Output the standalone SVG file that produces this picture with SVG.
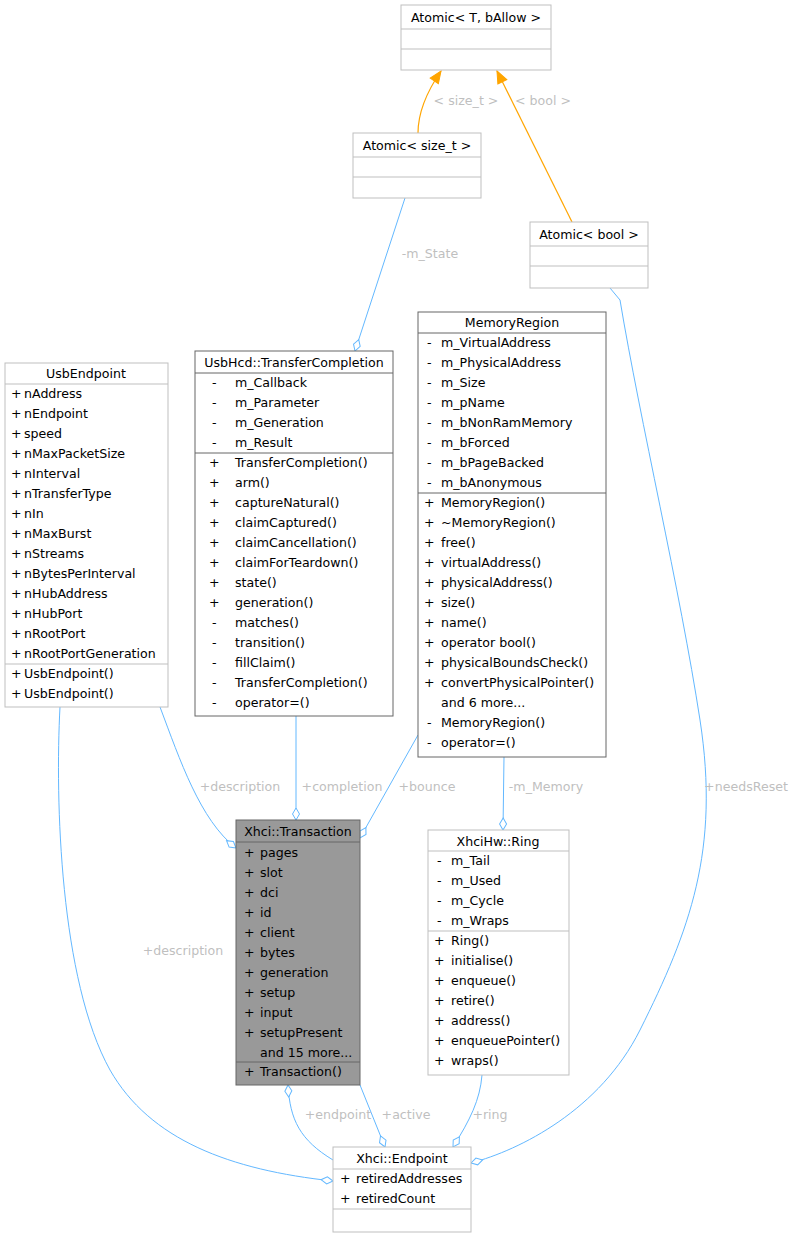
<svg xmlns="http://www.w3.org/2000/svg" width="796" height="1239" viewBox="0 0 796 1239">
<style>
text{font-family:"DejaVu Sans","Liberation Sans",sans-serif;font-size:12.6px;fill:#000}
.t{text-anchor:middle}
.b{fill:#fff;stroke:#bfbfbf;stroke-width:1}
.d{fill:#fff;stroke:#666;stroke-width:1}
.g{fill:#999;stroke:#666;stroke-width:1}
.ls{stroke:#bfbfbf}
.ld{stroke:#666}
.e{fill:none;stroke:#63b8ff;stroke-width:1}
.i{fill:none;stroke:#ffa500;stroke-width:1.2}
.lab{fill:#bfbfbf;text-anchor:middle}
</style>
<defs>
<marker id="dia" markerUnits="userSpaceOnUse" markerWidth="14" markerHeight="10" refX="0" refY="5" orient="auto" viewBox="0 0 14 10" overflow="visible">
<path d="M0,5 L6,1.5 L12,5 L6,8.5 Z" fill="#fff" stroke="#63b8ff"/>
</marker>
<marker id="tri" markerUnits="userSpaceOnUse" markerWidth="13" markerHeight="11" refX="12" refY="5.5" orient="auto" viewBox="0 0 13 11" overflow="visible">
<path d="M0,0.5 L12,5.5 L0,10.5 Z" fill="#ffa500" stroke="#ffa500"/>
</marker>
</defs>
<g id="edges">
<path class="i" d="M418,133 C418,110 428,90 441,71" marker-end="url(#tri)"/>
<path class="i" d="M572,222 L497,71" marker-end="url(#tri)"/>
<path class="e" d="M355,351 L405,198" marker-start="url(#dia)"/>
<path class="e" d="M236,848 C200,820 180,760 160,707" marker-start="url(#dia)"/>
<path class="e" d="M296,820 L296,716" marker-start="url(#dia)"/>
<path class="e" d="M360,838 L418,735" marker-start="url(#dia)"/>
<path class="e" d="M503,830 L504,757" marker-start="url(#dia)"/>
<path class="e" d="M333,1181 C230,1170 150,1140 110,1070 C60,980 55,800 60,707" marker-start="url(#dia)"/>
<path class="e" d="M288,1085 C290,1120 300,1140 333,1160" marker-start="url(#dia)"/>
<path class="e" d="M385,1147 L360,1085" marker-start="url(#dia)"/>
<path class="e" d="M453,1147 C470,1120 480,1100 482,1075" marker-start="url(#dia)"/>
<path class="e" d="M471,1163 C520,1150 600,1110 640,1030 C690,930 720,850 700,720 C680,590 640,420 620,300 L610,288" marker-start="url(#dia)"/>
<text class="lab" x="466" y="105">&lt; size_t &gt;</text>
<text class="lab" x="543" y="105">&lt; bool &gt;</text>
<text class="lab" x="430" y="258">-m_State</text>
<text class="lab" x="240" y="791">+description</text>
<text class="lab" x="342" y="791">+completion</text>
<text class="lab" x="427" y="791">+bounce</text>
<text class="lab" x="546" y="791">-m_Memory</text>
<text class="lab" x="746" y="791">+needsReset</text>
<text class="lab" x="183" y="955">+description</text>
<text class="lab" x="338" y="1119">+endpoint</text>
<text class="lab" x="406" y="1119">+active</text>
<text class="lab" x="490" y="1119">+ring</text>
</g>
<g id="AtomicT">
<rect class="b" x="401" y="5" width="150" height="65"/>
<line class="ls" x1="401" y1="29" x2="551" y2="29"/><line class="ls" x1="401" y1="49" x2="551" y2="49"/>
<text class="t" x="476" y="22">Atomic&lt; T, bAllow &gt;</text>
</g>
<g id="AtomicSize">
<rect class="b" x="353" y="133" width="128" height="65"/>
<line class="ls" x1="353" y1="157" x2="481" y2="157"/><line class="ls" x1="353" y1="177" x2="481" y2="177"/>
<text class="t" x="417" y="150">Atomic&lt; size_t &gt;</text>
</g>
<g id="AtomicBool">
<rect class="b" x="530" y="222" width="118" height="66"/>
<line class="ls" x1="530" y1="246" x2="648" y2="246"/><line class="ls" x1="530" y1="266" x2="648" y2="266"/>
<text class="t" x="589" y="239">Atomic&lt; bool &gt;</text>
</g>
<g id="UsbEndpoint">
<rect class="b" x="5" y="363" width="163" height="344"/>
<line class="ls" x1="5" y1="384" x2="168" y2="384"/><line class="ls" x1="5" y1="664" x2="168" y2="664"/>
<text class="t" x="86" y="378">UsbEndpoint</text>
<text x="11" y="398">+</text><text x="24" y="398">nAddress</text>
<text x="11" y="418">+</text><text x="24" y="418">nEndpoint</text>
<text x="11" y="438">+</text><text x="24" y="438">speed</text>
<text x="11" y="458">+</text><text x="24" y="458">nMaxPacketSize</text>
<text x="11" y="478">+</text><text x="24" y="478">nInterval</text>
<text x="11" y="498">+</text><text x="24" y="498">nTransferType</text>
<text x="11" y="518">+</text><text x="24" y="518">nIn</text>
<text x="11" y="538">+</text><text x="24" y="538">nMaxBurst</text>
<text x="11" y="558">+</text><text x="24" y="558">nStreams</text>
<text x="11" y="578">+</text><text x="24" y="578">nBytesPerInterval</text>
<text x="11" y="598">+</text><text x="24" y="598">nHubAddress</text>
<text x="11" y="618">+</text><text x="24" y="618">nHubPort</text>
<text x="11" y="638">+</text><text x="24" y="638">nRootPort</text>
<text x="11" y="658">+</text><text x="24" y="658">nRootPortGeneration</text>
<text x="11" y="678">+</text><text x="24" y="678">UsbEndpoint()</text>
<text x="11" y="698">+</text><text x="24" y="698">UsbEndpoint()</text>
</g>
<g id="TransferCompletion">
<rect class="d" x="195" y="351" width="198" height="365"/>
<line class="ld" x1="195" y1="373" x2="393" y2="373"/><line class="ld" x1="195" y1="453" x2="393" y2="453"/>
<text class="t" x="294" y="367">UsbHcd::TransferCompletion</text>
<text x="212" y="387">-</text><text x="235" y="387">m_Callback</text>
<text x="212" y="407">-</text><text x="235" y="407">m_Parameter</text>
<text x="212" y="427">-</text><text x="235" y="427">m_Generation</text>
<text x="212" y="447">-</text><text x="235" y="447">m_Result</text>
<text x="209" y="467">+</text><text x="235" y="467">TransferCompletion()</text>
<text x="209" y="487">+</text><text x="235" y="487">arm()</text>
<text x="209" y="507">+</text><text x="235" y="507">captureNatural()</text>
<text x="209" y="527">+</text><text x="235" y="527">claimCaptured()</text>
<text x="209" y="547">+</text><text x="235" y="547">claimCancellation()</text>
<text x="209" y="567">+</text><text x="235" y="567">claimForTeardown()</text>
<text x="209" y="587">+</text><text x="235" y="587">state()</text>
<text x="209" y="607">+</text><text x="235" y="607">generation()</text>
<text x="212" y="627">-</text><text x="235" y="627">matches()</text>
<text x="212" y="647">-</text><text x="235" y="647">transition()</text>
<text x="212" y="667">-</text><text x="235" y="667">fillClaim()</text>
<text x="212" y="687">-</text><text x="235" y="687">TransferCompletion()</text>
<text x="212" y="707">-</text><text x="235" y="707">operator=()</text>
</g>
<g id="MemoryRegion">
<rect class="d" x="418" y="312" width="188" height="445"/>
<line class="ld" x1="418" y1="333" x2="606" y2="333"/><line class="ld" x1="418" y1="493" x2="606" y2="493"/>
<text class="t" x="512" y="327">MemoryRegion</text>
<text x="427" y="347">-</text><text x="441" y="347">m_VirtualAddress</text>
<text x="427" y="367">-</text><text x="441" y="367">m_PhysicalAddress</text>
<text x="427" y="387">-</text><text x="441" y="387">m_Size</text>
<text x="427" y="407">-</text><text x="441" y="407">m_pName</text>
<text x="427" y="427">-</text><text x="441" y="427">m_bNonRamMemory</text>
<text x="427" y="447">-</text><text x="441" y="447">m_bForced</text>
<text x="427" y="467">-</text><text x="441" y="467">m_bPageBacked</text>
<text x="427" y="487">-</text><text x="441" y="487">m_bAnonymous</text>
<text x="424" y="507">+</text><text x="441" y="507">MemoryRegion()</text>
<text x="424" y="527">+</text><text x="441" y="527">~MemoryRegion()</text>
<text x="424" y="547">+</text><text x="441" y="547">free()</text>
<text x="424" y="567">+</text><text x="441" y="567">virtualAddress()</text>
<text x="424" y="587">+</text><text x="441" y="587">physicalAddress()</text>
<text x="424" y="607">+</text><text x="441" y="607">size()</text>
<text x="424" y="627">+</text><text x="441" y="627">name()</text>
<text x="424" y="647">+</text><text x="441" y="647">operator bool()</text>
<text x="424" y="667">+</text><text x="441" y="667">physicalBoundsCheck()</text>
<text x="424" y="687">+</text><text x="441" y="687">convertPhysicalPointer()</text>
<text x="441" y="707">and 6 more...</text>
<text x="427" y="727">-</text><text x="441" y="727">MemoryRegion()</text>
<text x="427" y="747">-</text><text x="441" y="747">operator=()</text>
</g>
<g id="Transaction">
<rect class="g" x="236" y="820" width="124" height="265"/>
<line class="ld" x1="236" y1="842" x2="360" y2="842"/><line class="ld" x1="236" y1="1062" x2="360" y2="1062"/>
<text class="t" x="298" y="836">Xhci::Transaction</text>
<text x="244" y="857">+</text><text x="260" y="857">pages</text>
<text x="244" y="877">+</text><text x="260" y="877">slot</text>
<text x="244" y="897">+</text><text x="260" y="897">dci</text>
<text x="244" y="917">+</text><text x="260" y="917">id</text>
<text x="244" y="937">+</text><text x="260" y="937">client</text>
<text x="244" y="957">+</text><text x="260" y="957">bytes</text>
<text x="244" y="977">+</text><text x="260" y="977">generation</text>
<text x="244" y="997">+</text><text x="260" y="997">setup</text>
<text x="244" y="1017">+</text><text x="260" y="1017">input</text>
<text x="244" y="1037">+</text><text x="260" y="1037">setupPresent</text>
<text x="260" y="1057">and 15 more...</text>
<text x="244" y="1076">+</text><text x="260" y="1076">Transaction()</text>
</g>
<g id="Ring">
<rect class="b" x="428" y="830" width="141" height="245"/>
<line class="ls" x1="428" y1="851" x2="569" y2="851"/><line class="ls" x1="428" y1="931" x2="569" y2="931"/>
<text class="t" x="498" y="846">XhciHw::Ring</text>
<text x="437" y="865">-</text><text x="451" y="865">m_Tail</text>
<text x="437" y="885">-</text><text x="451" y="885">m_Used</text>
<text x="437" y="905">-</text><text x="451" y="905">m_Cycle</text>
<text x="437" y="925">-</text><text x="451" y="925">m_Wraps</text>
<text x="434" y="945">+</text><text x="451" y="945">Ring()</text>
<text x="434" y="965">+</text><text x="451" y="965">initialise()</text>
<text x="434" y="985">+</text><text x="451" y="985">enqueue()</text>
<text x="434" y="1005">+</text><text x="451" y="1005">retire()</text>
<text x="434" y="1025">+</text><text x="451" y="1025">address()</text>
<text x="434" y="1045">+</text><text x="451" y="1045">enqueuePointer()</text>
<text x="434" y="1065">+</text><text x="451" y="1065">wraps()</text>
</g>
<g id="Endpoint">
<rect class="b" x="333" y="1147" width="138" height="85"/>
<line class="ls" x1="333" y1="1169" x2="471" y2="1169"/><line class="ls" x1="333" y1="1209" x2="471" y2="1209"/>
<text class="t" x="402" y="1163">Xhci::Endpoint</text>
<text x="340" y="1183">+</text><text x="356" y="1183">retiredAddresses</text>
<text x="340" y="1203">+</text><text x="356" y="1203">retiredCount</text>
</g>
</svg>
